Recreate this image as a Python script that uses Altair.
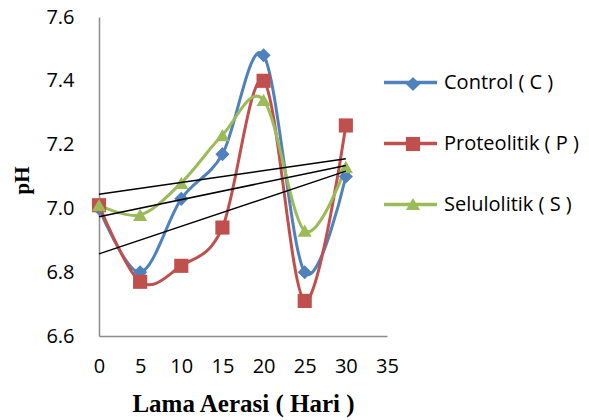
import altair as alt
import pandas as pd

days = [0, 5, 10, 15, 20, 25, 30]
control = [7.00, 6.80, 7.03, 7.17, 7.48, 6.80, 7.10]
proteolitik = [7.01, 6.77, 6.82, 6.94, 7.40, 6.71, 7.26]
selulolitik = [7.01, 6.98, 7.08, 7.23, 7.34, 6.93, 7.13]
series_names = ["Control ( C )", "Proteolitik ( P )", "Selulolitik ( S )"]
colors = ["#4F81BD", "#C0504D", "#9BBB59"]
shapes = ["diamond", "square", "triangle-up"]
y_ticks = [6.6, 6.8, 7.0, 7.2, 7.4, 7.6]
x_ticks = [0, 5, 10, 15, 20, 25, 30, 35]

rows = []
for si, (name, vals) in enumerate(zip(series_names, [control, proteolitik, selulolitik])):
    for d, v in zip(days, vals):
        rows.append({"series": name, "day": d, "ph": v, "order": si})
df = pd.DataFrame(rows)

FONT = "Open Sans"
SERIF = "Liberation Serif"

x_enc = alt.X(
    "day:Q",
    scale=alt.Scale(domain=[0, 35], nice=False),
    axis=alt.Axis(
        values=x_ticks, tickSize=0, labelPadding=20, labelFontSize=20, labelFont=FONT,
        labelColor="black", labelFlush=False, labelOverlap=False, grid=False,
        domainColor="#8C8C8C", domainWidth=1.5,
        title="Lama Aerasi ( Hari )", titleFont=SERIF, titleFontSize=25,
        titleFontWeight="bold", titleColor="black", titleY=75, titleBaseline="alphabetic",
    ),
)
y_enc = alt.Y(
    "ph:Q",
    scale=alt.Scale(domain=[6.6, 7.6], nice=False, zero=False),
    axis=alt.Axis(
        values=y_ticks, format=".1f", tickSize=0, labelPadding=25, labelFontSize=20,
        labelFont=FONT, labelColor="black", labelFlush=False, labelOverlap=False, grid=False,
        domainColor="#8C8C8C", domainWidth=1.5,
        title="pH", titleFont=SERIF, titleFontSize=21, titleFontWeight="bold",
        titleColor="black", titleAngle=270, titleX=-77, titleY=163,
        titleBaseline="middle", titleAlign="center",
    ),
)

line_legend = alt.Legend(
    orient="none", legendX=283, legendY=37, title=None, symbolType="stroke",
    symbolSize=2809, symbolStrokeWidth=3.5, labelFontSize=20, labelFont=FONT,
    labelColor="black", labelOffset=5, rowPadding=22, padding=0,
)
point_legend = alt.Legend(
    orient="none", legendX=304, legendY=57, title=None,
    symbolSize=200, labelFontSize=20, labelFont=FONT, labelOpacity=0,
    labelExpr="''", labelOffset=0, rowPadding=40, padding=0, symbolStrokeWidth=0,
)

lines = alt.Chart(df).mark_line(interpolate="cardinal", strokeWidth=3).encode(
    x=x_enc, y=y_enc,
    color=alt.Color("series:N", scale=alt.Scale(domain=series_names, range=colors), legend=line_legend),
    order="day:Q",
)
points = alt.Chart(df).mark_point(filled=True, size=200, opacity=1).encode(
    x="day:Q", y="ph:Q",
    color=alt.Color("series:N", scale=alt.Scale(domain=series_names, range=colors), legend=point_legend),
    shape=alt.Shape("series:N", scale=alt.Scale(domain=series_names, range=shapes), legend=point_legend),
)
trend = alt.Chart(df).transform_regression("day", "ph", groupby=["series"]).mark_line(
    color="black", strokeWidth=1.5
).encode(x="day:Q", y="ph:Q", detail="series:N")

chart = alt.layer(lines, points, trend).resolve_scale(
    color="independent", shape="independent"
).properties(
    width=288, height=319,
    autosize=alt.AutoSizeParams(type="none"),
    padding={"left": 91, "top": 9, "right": 194, "bottom": 82},
    background="white",
).configure_view(stroke=None)

chart.save("out.html", embed_options={"renderer": "svg", "actions": False})
